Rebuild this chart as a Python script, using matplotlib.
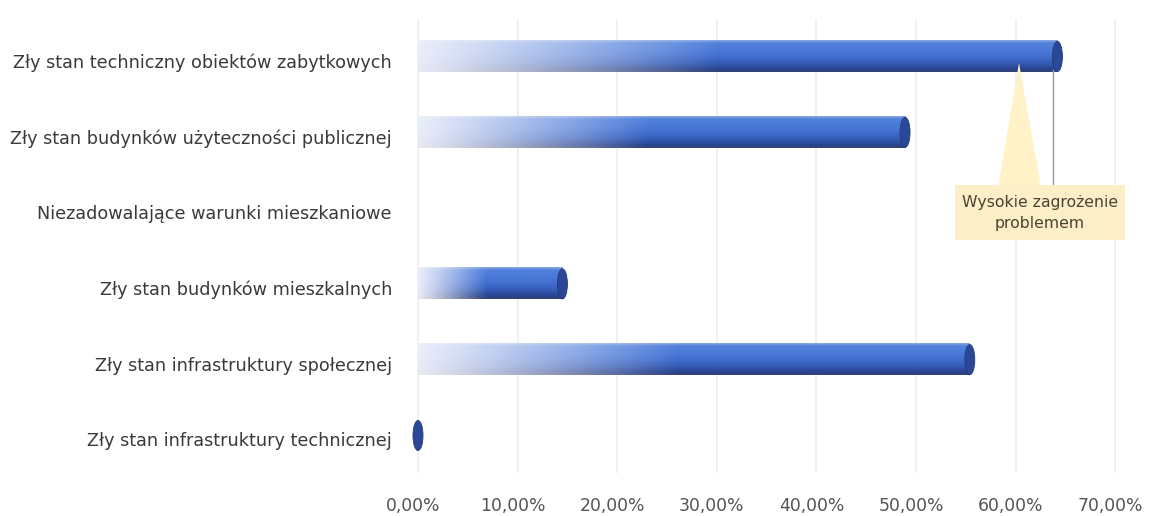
import numpy as np
import matplotlib
matplotlib.use("Agg")
import matplotlib.pyplot as plt
import matplotlib.transforms as mtransforms
from matplotlib.patches import Ellipse, Rectangle, Polygon
from matplotlib.ticker import FuncFormatter

categories = [
    "Zły stan techniczny obiektów zabytkowych",
    "Zły stan budynków użyteczności publicznej",
    "Niezadowalające warunki mieszkaniowe",
    "Zły stan budynków mieszkalnych",
    "Zły stan infrastruktury społecznej",
    "Zły stan infrastruktury technicznej",
]
values = [0.642, 0.489, None, 0.145, 0.554, 0.0]
xticks = [0.0, 0.1, 0.2, 0.3, 0.4, 0.5, 0.6, 0.7]
callout_text = "Wysokie zagrożenie\nproblemem"

W, H = 1154, 516
fig = plt.figure(figsize=(W / 100, H / 100), dpi=100)
ax_left, ax_right = 410, 1150
ax_top, ax_bottom = 18.6, 473.4
ax = fig.add_axes([ax_left / W, (H - ax_bottom) / H, (ax_right - ax_left) / W, (ax_bottom - ax_top) / H])

px_per_unit = 996.0
x0_px = 418.0
ax.set_xlim((ax_left - x0_px) / px_per_unit, (ax_right - x0_px) / px_per_unit)
n = len(categories)
ax.set_ylim(-0.5, n - 0.5)

bar_h = 0.41

# vertical cylinder profile
stops_s = [0.0, 0.08, 0.4, 0.7, 0.9, 1.0]
stops_c = np.array([
    [0.55, 0.66, 0.88],
    [0.32, 0.51, 0.86],
    [0.28, 0.46, 0.84],
    [0.21, 0.37, 0.73],
    [0.16, 0.27, 0.57],
    [0.20, 0.26, 0.45],
])
ny, nx = 60, 300
s = np.linspace(0, 1, ny)
prof = np.stack([np.interp(s, stops_s, stops_c[:, k]) for k in range(3)], axis=1)

def bar_image(frac_full=0.47):
    t = np.linspace(0, 1, nx)
    w = np.clip(t / frac_full, 0, 1) ** 1.1
    w = 0.08 + 0.92 * w
    img = np.ones((ny, nx, 3))
    white = np.array([0.97, 0.97, 0.99])
    for k in range(3):
        img[:, :, k] = white[k] * (1 - w[None, :]) + prof[:, k][:, None] * w[None, :]
    return img

cap_w = 10.0 / px_per_unit
for i, (cat, v) in enumerate(zip(categories, values)):
    if v is None:
        continue
    yc = n - 1 - i
    if v > 0:
        ax.imshow(bar_image(), extent=(0, v, yc - bar_h / 2, yc + bar_h / 2),
                  origin="upper", aspect="auto", interpolation="bilinear", zorder=2)
    cap = Ellipse((v, yc), width=cap_w, height=bar_h * 0.97, facecolor="#2b4797",
                  edgecolor="#233b7e", lw=0.6, zorder=3, clip_on=False)
    ax.add_patch(cap)

ax.set_aspect("auto")

# callout
def px2x(px):
    return (px - x0_px) / px_per_unit

row0, row_sp = 56.5, 75.8
def py2y(py):
    return n - 1 - (py - row0) / row_sp

tri = Polygon([(px2x(1019), py2y(63)), (px2x(998), py2y(187)), (px2x(1041), py2y(187))],
              closed=True, facecolor="#fff2c9", edgecolor="none", zorder=4)
ax.add_patch(tri)
ax.plot([px2x(1053), px2x(1053)], [py2y(70), py2y(187)], color="#9a9a9a", lw=1, zorder=4)
rect = Rectangle((px2x(955), py2y(240)), px2x(1125) - px2x(955), py2y(185) - py2y(240),
                 facecolor="#fcefc7", edgecolor="none", zorder=4)
ax.add_patch(rect)
ax.text(px2x(1040), py2y(213), callout_text, ha="center", va="center",
        fontsize=11.3, color="#4a4331", linespacing=1.55, zorder=5)

# axes styling
ax.set_yticks([n - 1 - i for i in range(n)])
ax.set_yticklabels(categories, fontsize=12.7, color="#3a3a3a")
ax.set_xticks(xticks)
ax.xaxis.set_major_formatter(FuncFormatter(lambda v, p: f"{v*100:.2f}%".replace(".", ",")))
ax.tick_params(axis="x", length=0, pad=17, labelsize=12.4, labelcolor="#555555")
ax.tick_params(axis="y", length=0, pad=13)
for sp in ax.spines.values():
    sp.set_visible(False)
ax.grid(axis="x", color="#efefef", lw=1.2, zorder=0)
ax.set_axisbelow(True)

dx = mtransforms.ScaledTranslation(-5 / 100, 0, fig.dpi_scale_trans)
for lab in ax.get_xticklabels():
    lab.set_transform(lab.get_transform() + dx)
dy = mtransforms.ScaledTranslation(0, -4 / 100, fig.dpi_scale_trans)
for lab in ax.get_yticklabels():
    lab.set_transform(lab.get_transform() + dy)

fig.savefig("out.png", dpi=100)
